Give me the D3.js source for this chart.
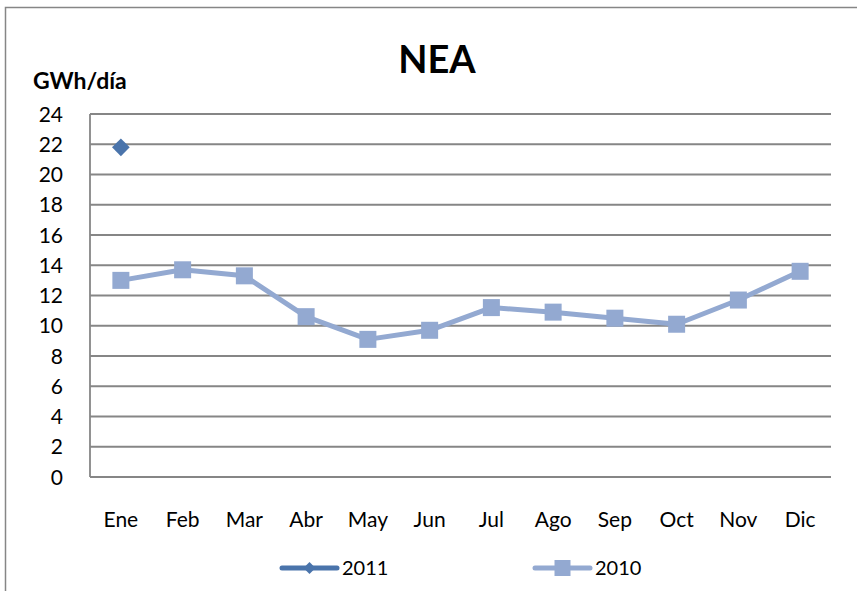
<!DOCTYPE html>
<html>
<head>
<meta charset="utf-8">
<script src="https://cdn.jsdelivr.net/npm/d3@7"></script>
<style>
  body { margin: 0; background: #fff; }
  text { font-family: Lato, "Open Sans", sans-serif; fill: #000; }
</style>
</head>
<body>
<div id="chart"></div>
<script>
var width = 857,
    height = 591;

// datos
var meses = ["Ene", "Feb", "Mar", "Abr", "May", "Jun", "Jul", "Ago", "Sep", "Oct", "Nov", "Dic"];
var valores2011 = [21.8, null, null, null, null, null, null, null, null, null, null, null];
var valores2010 = [13.0, 13.7, 13.3, 10.6, 9.1, 9.7, 11.2, 10.9, 10.5, 10.1, 11.7, 13.6];
var ticksY = [0, 2, 4, 6, 8, 10, 12, 14, 16, 18, 20, 22, 24];

var color2011 = "#4a74ab",
    color2010 = "#93a9d1",
    gris = "#868686";

var margin = {top: 114, left: 90, right: 26, bottom: 114};

var svg = d3.select("#chart")
  .append("svg")
  .attr("width", width)
  .attr("height", height);

// borde exterior
svg.append("rect")
  .attr("x", 5.5).attr("y", 7.5)
  .attr("width", width).attr("height", height)
  .attr("fill", "none")
  .attr("stroke", gris)
  .attr("stroke-width", 1.5);

var x = d3.scaleBand()
  .domain(meses)
  .range([margin.left, width - margin.right]);

var y = d3.scaleLinear()
  .domain([0, 24])
  .range([height - margin.bottom, margin.top]);

// grilla
svg.selectAll(".grid")
  .data(ticksY)
  .enter().append("line")
    .attr("x1", margin.left).attr("x2", width - margin.right)
    .attr("y1", function(d) { return y(d); })
    .attr("y2", function(d) { return y(d); })
    .attr("stroke", gris)
    .attr("stroke-width", 1.8);

svg.append("line")
  .attr("x1", margin.left).attr("x2", margin.left)
  .attr("y1", y(24)).attr("y2", y(0))
  .attr("stroke", gris)
  .attr("stroke-width", 1.8);

// etiquetas eje y
svg.selectAll(".ytick")
  .data(ticksY)
  .enter().append("text")
    .attr("x", 63)
    .attr("y", function(d) { return y(d); })
    .attr("dy", "0.36em")
    .attr("text-anchor", "end")
    .style("font-size", "21px")
    .text(function(d) { return d; });

// etiquetas eje x
svg.selectAll(".xtick")
  .data(meses)
  .enter().append("text")
    .attr("x", function(d) { return x(d) + x.bandwidth() / 2; })
    .attr("y", 527)
    .attr("text-anchor", "middle")
    .style("font-size", "21px")
    .text(function(d) { return d; });

// titulos
svg.append("text")
  .attr("x", 437).attr("y", 73)
  .attr("text-anchor", "middle")
  .style("font-size", "38px")
  .style("font-weight", "bold")
  .text("NEA");

svg.append("text")
  .attr("x", 33).attr("y", 89)
  .style("font-size", "23px")
  .style("font-weight", "bold")
  .text("GWh/día");

var cx = function(d, i) { return x(meses[i]) + x.bandwidth() / 2; };

// serie 2010
var linea = d3.line()
  .defined(function(d) { return d != null; })
  .x(cx)
  .y(function(d) { return y(d); });

svg.append("path")
  .datum(valores2010)
  .attr("d", linea)
  .attr("fill", "none")
  .attr("stroke", color2010)
  .attr("stroke-width", 5)
  .attr("stroke-linejoin", "round");

svg.selectAll(".m2010")
  .data(valores2010)
  .enter().append("rect")
    .attr("x", function(d, i) { return cx(d, i) - 8.5; })
    .attr("y", function(d) { return y(d) - 8.5; })
    .attr("width", 17).attr("height", 17)
    .attr("fill", color2010);

// serie 2011
svg.append("path")
  .datum(valores2011)
  .attr("d", linea)
  .attr("fill", "none")
  .attr("stroke", color2011)
  .attr("stroke-width", 5);

var diamante = d3.symbol().type(d3.symbolDiamond2).size(200);

svg.selectAll(".m2011")
  .data(valores2011)
  .enter().append("path")
    .filter(function(d) { return d != null; })
    .attr("d", diamante)
    .attr("transform", function(d) { return "translate(" + cx(d, valores2011.indexOf(d)) + "," + y(d) + ")"; })
    .attr("fill", color2011);

// leyenda
var leyenda = [
  {nombre: "2011", color: color2011, x0: 282, tipo: "diamante"},
  {nombre: "2010", color: color2010, x0: 535, tipo: "cuadro"}
];

var ly = 568;
leyenda.forEach(function(l) {
  svg.append("line")
    .attr("x1", l.x0).attr("x2", l.x0 + 55)
    .attr("y1", ly).attr("y2", ly)
    .attr("stroke", l.color)
    .attr("stroke-width", 5)
    .attr("stroke-linecap", "round");
  if (l.tipo == "diamante") {
    svg.append("path")
      .attr("d", d3.symbol().type(d3.symbolDiamond2).size(90))
      .attr("transform", "translate(" + (l.x0 + 27.5) + "," + ly + ")")
      .attr("fill", l.color);
  } else {
    svg.append("rect")
      .attr("x", l.x0 + 27.5 - 8).attr("y", ly - 8)
      .attr("width", 16).attr("height", 16)
      .attr("fill", l.color);
  }
  svg.append("text")
    .attr("x", l.x0 + 60).attr("y", ly)
    .attr("dy", "0.36em")
    .style("font-size", "20px")
    .text(l.nombre);
});
</script>
</body>
</html>
